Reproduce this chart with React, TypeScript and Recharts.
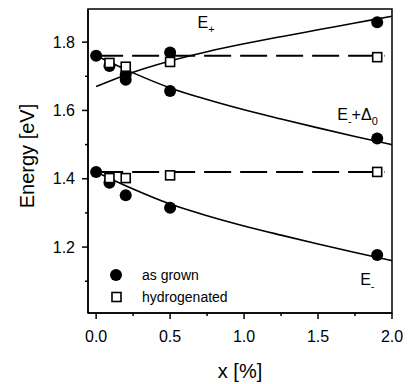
import {
  ComposedChart,
  Line,
  Scatter,
  XAxis,
  YAxis,
  ReferenceArea,
  ReferenceDot,
  Legend,
} from 'recharts';

// fit curves, every 0.25 %
const FIT_X = [0, 0.25, 0.5, 0.75, 1.0, 1.25, 1.5, 1.75, 2.0];
const E_PLUS_FIT = [1.67, 1.712, 1.745, 1.772, 1.795, 1.816, 1.836, 1.856, 1.876];
const E_SO_FIT = [1.76, 1.71, 1.666, 1.632, 1.602, 1.575, 1.549, 1.524, 1.5];
const E_MINUS_FIT = [1.42, 1.37, 1.326, 1.292, 1.262, 1.235, 1.209, 1.184, 1.16];

// as grown (filled circles)
const GROWN_UPPER_X = [0, 0.09, 0.2, 0.2, 0.5, 0.5, 1.9, 1.9];
const GROWN_UPPER_E = [1.76, 1.73, 1.705, 1.69, 1.77, 1.657, 1.858, 1.518];
const GROWN_LOWER_X = [0, 0.09, 0.2, 0.5, 1.9];
const GROWN_LOWER_E = [1.42, 1.388, 1.352, 1.315, 1.177];

// hydrogenated (open squares)
const HYD_X = [0.09, 0.2, 0.5, 1.9];
const HYD_UPPER_E = [1.739, 1.728, 1.742, 1.756];
const HYD_LOWER_E = [1.402, 1.402, 1.41, 1.42];

// dashed guide lines for the hydrogenated levels
const HYD_LINE_X = [0, 1.95];
const HYD_LEVELS = [1.76, 1.42];

const X_TICKS = [0, 0.25, 0.5, 0.75, 1.0, 1.25, 1.5, 1.75, 2.0];
const Y_TICKS = [1.1, 1.2, 1.3, 1.4, 1.5, 1.6, 1.7, 1.8];
const X_DOMAIN = [-0.055, 2.0];
const Y_DOMAIN = [1.007, 1.897];

const FONT = '"Liberation Sans", Arial, sans-serif';

const pts = (xs: number[], ys: number[]) => xs.map((x, i) => ({ x, y: ys[i] }));

const isMajorX = (v: number) => Math.abs(v * 2 - Math.round(v * 2)) < 1e-6;
const isMajorY = (v: number) => Math.round(v * 10) % 2 === 0;

function XTick({ x, y, payload }: any) {
  const major = isMajorX(payload.value);
  return (
    <g>
      <line x1={x} x2={x} y1={y} y2={y + (major ? 6 : 3)} stroke="#000" strokeWidth={1.5} />
      {major && (
        <text x={x} y={y + 29} textAnchor="middle" fontSize={16} fontFamily={FONT} fill="#000">
          {payload.value.toFixed(1)}
        </text>
      )}
    </g>
  );
}

function YTick({ x, y, payload }: any) {
  const major = isMajorY(payload.value);
  return (
    <g>
      <line x1={x - (major ? 6 : 3)} x2={x} y1={y} y2={y} stroke="#000" strokeWidth={1.5} />
      {major && (
        <text x={x - 13} y={y} dy="0.35em" textAnchor="end" fontSize={16} fontFamily={FONT} fill="#000">
          {payload.value.toFixed(1)}
        </text>
      )}
    </g>
  );
}

function Circle(p: any) {
  return <circle cx={p.cx} cy={p.cy} r={6} fill="#000" />;
}

function Square(p: any) {
  return <rect x={p.cx - 4.5} y={p.cy - 4.5} width={9} height={9} fill="#fff" stroke="#000" strokeWidth={1.6} />;
}

// text with subscripts: [text, isSub][]
function BandLabel({ viewBox, parts }: any) {
  let sub = false;
  return (
    <text x={viewBox.x} y={viewBox.y} fontSize={16} fontFamily={FONT} fill="#000">
      {parts.map(([t, s]: [string, boolean], i: number) => {
        const dy = s === sub ? 0 : s ? 5 : -5;
        sub = s;
        return (
          <tspan key={i} dy={dy} fontSize={s ? 11 : 16}>
            {t}
          </tspan>
        );
      })}
    </text>
  );
}

const LEGEND = [
  { name: 'as grown', shape: 'circle' },
  { name: 'hydrogenated', shape: 'square' },
];

function LegendBox() {
  return (
    <div style={{ fontFamily: FONT, fontSize: 14, color: '#000', lineHeight: '22px' }}>
      {LEGEND.map((e) => (
        <div key={e.name} style={{ display: 'flex', alignItems: 'center', height: 22 }}>
          <svg width={38} height={22}>
            {e.shape === 'circle' ? (
              <circle cx={12} cy={11} r={6} fill="#000" />
            ) : (
              <rect x={8} y={6.5} width={9} height={9} fill="#fff" stroke="#000" strokeWidth={1.6} />
            )}
          </svg>
          <span>{e.name}</span>
        </div>
      ))}
    </div>
  );
}

export default function App() {
  return (
    <div style={{ position: 'absolute', left: 0, top: 0, width: 410, height: 384, background: '#fff' }}>
      <ComposedChart width={410} height={384} margin={{ top: 9, right: 18, bottom: 0, left: 0 }}>
        <XAxis
          dataKey="x"
          type="number"
          domain={X_DOMAIN}
          allowDataOverflow
          ticks={X_TICKS}
          interval={0}
          height={71}
          tickSize={0}
          tickMargin={0}
          tick={<XTick />}
          axisLine={{ stroke: '#000', strokeWidth: 1.5 }}
          label={() => (
            <text x={240} y={378} textAnchor="middle" fontSize={20} fontFamily={FONT} fill="#000">
              x [%]
            </text>
          )}
        />
        <YAxis
          type="number"
          domain={Y_DOMAIN}
          allowDataOverflow
          ticks={Y_TICKS}
          interval={0}
          width={88}
          tickSize={0}
          tickMargin={0}
          tick={<YTick />}
          axisLine={{ stroke: '#000', strokeWidth: 1.5 }}
          label={() => (
            <text
              x={34}
              y={156}
              transform="rotate(-90 34 156)"
              textAnchor="middle"
              fontSize={20}
              fontFamily={FONT}
              fill="#000"
            >
              Energy [eV]
            </text>
          )}
        />
        <ReferenceArea
          x1={X_DOMAIN[0]}
          x2={X_DOMAIN[1]}
          y1={Y_DOMAIN[0]}
          y2={Y_DOMAIN[1]}
          fill="none"
          stroke="#000"
          strokeWidth={1.5}
        />
        <Line data={pts(FIT_X, E_PLUS_FIT)} dataKey="y" type="monotone" stroke="#000" strokeWidth={1.6} dot={false} isAnimationActive={false} />
        <Line data={pts(FIT_X, E_SO_FIT)} dataKey="y" type="monotone" stroke="#000" strokeWidth={1.6} dot={false} isAnimationActive={false} />
        <Line data={pts(FIT_X, E_MINUS_FIT)} dataKey="y" type="monotone" stroke="#000" strokeWidth={1.6} dot={false} isAnimationActive={false} />
        {HYD_LEVELS.map((lv) => (
          <Line
            key={lv}
            data={pts(HYD_LINE_X, HYD_LINE_X.map(() => lv))}
            dataKey="y"
            type="linear"
            stroke="#000"
            strokeWidth={2}
            strokeDasharray="27 9"
            dot={false}
            isAnimationActive={false}
          />
        ))}
        <Scatter name="as grown" data={pts(GROWN_UPPER_X, GROWN_UPPER_E)} dataKey="y" shape={<Circle />} isAnimationActive={false} />
        <Scatter name="as grown" data={pts(GROWN_LOWER_X, GROWN_LOWER_E)} dataKey="y" shape={<Circle />} isAnimationActive={false} />
        <Scatter name="hydrogenated" data={pts(HYD_X, HYD_UPPER_E)} dataKey="y" shape={<Square />} isAnimationActive={false} />
        <Scatter name="hydrogenated" data={pts(HYD_X, HYD_LOWER_E)} dataKey="y" shape={<Square />} isAnimationActive={false} />
        <ReferenceDot x={0.685} y={1.841} r={0} fill="none" stroke="none" label={<BandLabel parts={[['E', false], ['+', true]]} />} />
        <ReferenceDot
          x={1.63}
          y={1.572}
          r={0}
          fill="none"
          stroke="none"
          label={<BandLabel parts={[['E', false], ['-', true], ['+\u0394', false], ['0', true]]} />}
        />
        <ReferenceDot x={1.785} y={1.089} r={0} fill="none" stroke="none" label={<BandLabel parts={[['E', false], ['-', true]]} />} />
        <Legend
          layout="vertical"
          align="center"
          verticalAlign="middle"
          content={() => <LegendBox />}
          wrapperStyle={{ left: 104, top: 264, width: 'auto' }}
        />
      </ComposedChart>
    </div>
  );
}
